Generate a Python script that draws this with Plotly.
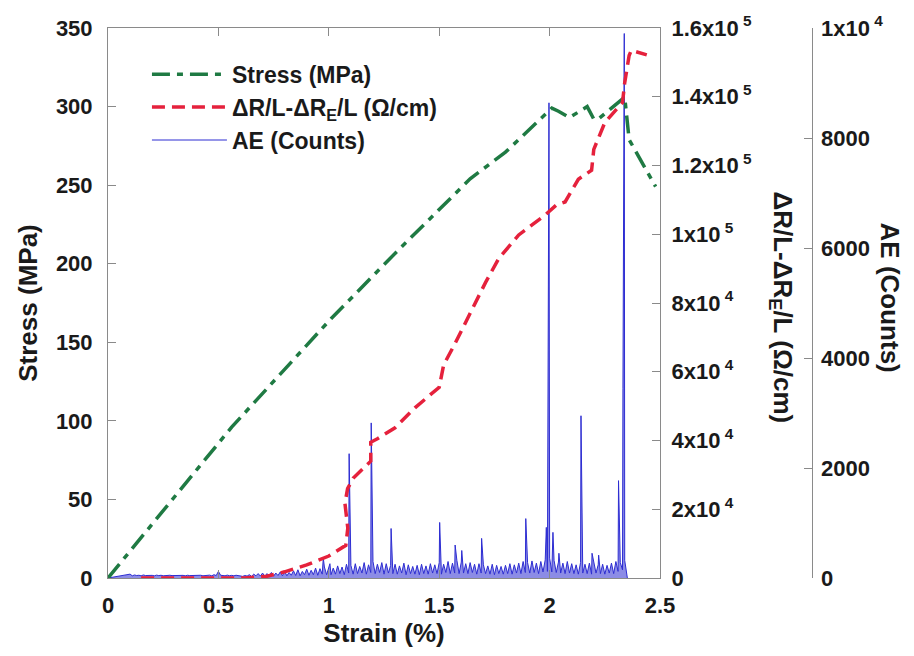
import plotly.graph_objects as go

# ---------------- data ----------------
stress_strain = [0, 0.56, 1.01, 1.31, 1.64, 1.80, 2.01, 2.04, 2.09, 2.17, 2.20, 2.22, 2.34, 2.36, 2.48]
stress_mpa    = [0, 96, 165, 208, 254, 271, 299, 297, 293, 300, 292, 292, 306, 279, 249]

dr_strain = [0.15, 0.40, 0.62, 0.72, 0.80, 0.90, 1.00, 1.077, 1.086, 1.073, 1.085, 1.11, 1.19, 1.19,
             1.22, 1.30, 1.39, 1.50, 1.52, 1.57, 1.62, 1.71, 1.77, 1.86, 1.98, 2.03, 2.07, 2.13,
             2.19, 2.20, 2.25, 2.33, 2.34, 2.36, 2.37, 2.44]
dr_value  = [0, 0, 0, 500, 1800, 3800, 6400, 9500, 14500, 21700, 26000, 29000, 34000, 39500,
             40500, 43700, 49500, 55500, 62000, 68000, 74500, 86000, 93000, 99800, 105600, 108500,
             109400, 116000, 118600, 124700, 132500, 138300, 144100, 152000, 153500, 152200]

# AE background counts sampled every 0.01 % strain from 0.10 % to 2.35 %
ae_start, ae_step = 0.10, 0.01
ae_noise_counts = [
    70, 40, 55, 45, 50, 40, 55, 45, 50, 42,
    48, 40, 52, 44, 50, 40, 46, 42, 50, 44,
    46, 40, 52, 42, 48, 40, 50, 44, 46, 40,
    48, 42, 50, 40, 46, 44, 52, 40, 60, 44,
    120, 50, 46, 40, 52, 42, 48, 40, 50, 44,
    40, 30, 45, 35, 60, 30, 70, 40, 80, 35,
    90, 30, 80, 40, 100, 35, 90, 45, 110, 40,
    120, 40, 100, 50, 130, 45, 150, 40, 120, 60,
    160, 50, 140, 60, 180, 50, 170, 70, 200, 60,
    210, 60, 180, 70, 220, 80, 200, 60, 250, 90,
    230, 70, 260, 80, 210, 90, 280, 70, 240, 100,
    300, 80, 250, 100, 280, 70, 260, 90, 230, 80,
    250, 70, 220, 90, 270, 60, 240, 80, 210, 70,
    230, 60, 250, 80, 220, 70, 260, 90, 240, 80,
    280, 70, 250, 100, 300, 80, 270, 90, 320, 80,
    290, 90, 260, 80, 280, 100, 250, 70, 260, 90,
    240, 80, 220, 70, 250, 60, 230, 80, 210, 70,
    230, 80, 260, 70, 240, 90, 270, 80, 300, 100,
    280, 90, 310, 100, 270, 80, 300, 110, 330, 120,
    360, 110, 320, 100, 290, 90, 270, 80, 300, 90,
    260, 80, 240, 70, 280, 90, 250, 80, 270, 70,
    260, 90, 240, 80, 250, 70, 230, 90, 270, 80,
    300, 120, 280, 150, 320, 100,
]
ae_spike_strain = [0.975, 1.005, 1.092, 1.192, 1.282, 1.502, 1.572, 1.602, 1.692, 1.892,
                   1.985, 1.997, 2.015, 2.042, 2.142, 2.192, 2.222, 2.312, 2.332, 2.338]
ae_spike_counts = [360, 260, 2260, 2820, 900, 1010, 600, 500, 720, 1080,
                   920, 8640, 830, 450, 2950, 450, 415, 1770, 3450, 9900]

# ---------------- build AE series ----------------
ae_pts = [(round(ae_start + i * ae_step, 4), c) for i, c in enumerate(ae_noise_counts)]
ae_pts += list(zip(ae_spike_strain, ae_spike_counts))
ae_pts.sort(key=lambda p: p[0])
ae_pts = [(0.0, 0)] + ae_pts + [(ae_pts[-1][0] + 0.002, 0)]
ae_x = [p[0] for p in ae_pts]
ae_y = [p[1] for p in ae_pts]

FONT = "Liberation Sans, Arial, sans-serif"
TXT = "#1a1a1a"
AX = "#8a8a8a"

fig = go.Figure()
# AE: shaded band (no legend entry) + line (legend entry)
fig.add_trace(go.Scatter(x=ae_x, y=ae_y, yaxis="y", mode="lines", showlegend=False,
                         hoverinfo="skip", fill="tozeroy", fillcolor="rgba(45,45,210,0.55)",
                         line=dict(color="rgba(0,0,0,0)", width=0)))
fig.add_trace(go.Scatter(x=ae_x, y=ae_y, yaxis="y", mode="lines",
                         name="AE (Counts)", legendrank=3,
                         line=dict(color="#2d2dd2", width=1)))
fig.add_trace(go.Scatter(x=stress_strain, y=stress_mpa, yaxis="y2", mode="lines",
                         name="Stress (MPa)", legendrank=1,
                         line=dict(color="#1f7a43", width=3.5, dash="18px,7px,6px,7px")))
fig.add_trace(go.Scatter(x=dr_strain, y=dr_value, yaxis="y3", mode="lines",
                         name="ΔR/L-ΔR<sub>E</sub>/L (Ω/cm)", legendrank=2,
                         line=dict(color="#e5213c", width=3.5, dash="13px,7px")))

L, R, T, B = 108, 20, 25, 78
W, H = 914, 656
pw = W - L - R
dom_end = (665 - L) / pw
ae_pos = (818 - L) / pw

tickf = dict(family=FONT, size=22, color=TXT, weight="bold")
common = dict(showline=True, linecolor=AX, linewidth=1, ticks="inside", ticklen=8,
              tickcolor=AX, showgrid=False, zeroline=False, tickfont=tickf)

dr_vals = [0, 2e4, 4e4, 6e4, 8e4, 1e5, 1.2e5, 1.4e5, 1.6e5]
dr_text = ["0", "2x10<sup> 4</sup>", "4x10<sup> 4</sup>", "6x10<sup> 4</sup>", "8x10<sup> 4</sup>",
           "1x10<sup> 5</sup>", "1.2x10<sup> 5</sup>", "1.4x10<sup> 5</sup>", "1.6x10<sup> 5</sup>"]
ae_vals = [0, 2000, 4000, 6000, 8000, 10000]
ae_text = ["0", "2000", "4000", "6000", "8000", "1x10<sup> 4</sup>"]

title_font = dict(family=FONT, size=26, color=TXT, weight="bold")

fig.update_layout(
    width=W, height=H,
    margin=dict(l=L, r=R, t=T, b=B),
    paper_bgcolor="white", plot_bgcolor="white",
    font=dict(family=FONT, color=TXT, weight="bold"),
    xaxis=dict(domain=[0, dom_end], range=[0, 2.5], tickvals=[0, 0.5, 1, 1.5, 2, 2.5],
               ticktext=["0", "0.5", "1", "1.5", "2", "2.5"], mirror="ticks",
               ticklabelstandoff=8,
               title=dict(text="Strain (%)", font=title_font, standoff=4),
               **common),
    yaxis=dict(range=[0, 10000], tickvals=ae_vals, ticktext=ae_text, side="right",
               anchor="free", position=ae_pos, ticklabelstandoff=4, **common),
    yaxis2=dict(range=[0, 350], tickvals=list(range(0, 351, 50)), overlaying="y", side="left",
                anchor="x", ticklabelstandoff=10,
                title=dict(text="Stress (MPa)", font=title_font, standoff=10),
                **common),
    yaxis3=dict(range=[0, 1.6e5], tickvals=dr_vals, ticktext=dr_text, overlaying="y", side="right",
                anchor="x", ticklabelstandoff=6, **common),
    legend=dict(x=0.05, y=0.955, xanchor="left", yanchor="top", bgcolor="rgba(0,0,0,0)",
                font=dict(family=FONT, size=23, color=TXT, weight="bold"), itemwidth=75,
                tracegroupgap=0),
    showlegend=True,
)

fig.add_annotation(text="ΔR/L-ΔR<sub>E</sub>/L (Ω/cm)", textangle=90, showarrow=False,
                   xref="paper", yref="paper", x=(788 - L) / pw, y=(578 - 306) / 553,
                   xanchor="center", yanchor="middle", font=title_font)
fig.add_annotation(text="AE (Counts)", textangle=90, showarrow=False,
                   xref="paper", yref="paper", x=(897 - L) / pw, y=(578 - 296) / 553,
                   xanchor="center", yanchor="middle", font=title_font)

fig.write_html("out.html")
